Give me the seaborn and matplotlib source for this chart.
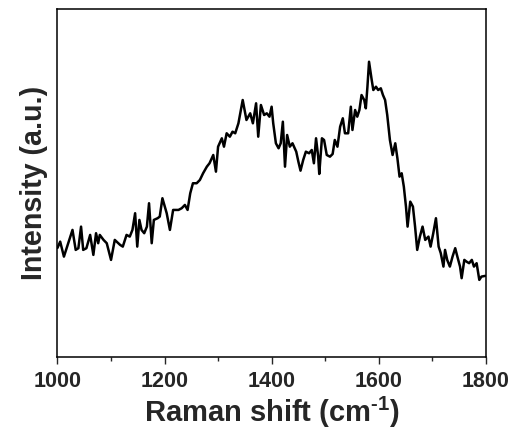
import matplotlib
matplotlib.use("Agg")
import matplotlib.pyplot as plt
import seaborn as sns
import pandas as pd
import numpy as np
from matplotlib.ticker import MultipleLocator

raman_shift = [
    1000, 1005, 1012, 1020, 1028, 1034, 1039, 1044, 1048, 1054, 1061, 1067, 1072, 1076, 1079,
    1086, 1092, 1100, 1107, 1117, 1122, 1129, 1135, 1140, 1145, 1149, 1153, 1157, 1162, 1167,
    1171, 1176, 1180, 1187, 1191, 1196, 1204, 1210, 1216, 1226, 1232, 1238, 1243, 1248, 1253,
    1260, 1266, 1272, 1279, 1284, 1291, 1296, 1300, 1307, 1311, 1316, 1322, 1327, 1332, 1338,
    1346, 1353, 1360, 1365, 1371, 1375, 1380,
    1386, 1391, 1396, 1400, 1403, 1408, 1413, 1417, 1421, 1425, 1429, 1434, 1439, 1446, 1450,
    1454, 1459, 1464, 1470, 1475, 1479, 1483, 1487, 1489, 1494, 1498, 1503, 1509, 1514, 1518,
    1523, 1528, 1533, 1537, 1543, 1548, 1551, 1556, 1560, 1564, 1568, 1573, 1576, 1579, 1582,
    1587, 1590, 1595, 1599, 1604, 1608, 1612, 1616, 1621, 1626, 1631, 1635, 1639, 1643, 1647,
    1651, 1654, 1659, 1664, 1668, 1672, 1677, 1682, 1687, 1693, 1697, 1702, 1707, 1712, 1716,
    1721, 1724, 1728, 1733, 1738, 1743, 1747, 1752, 1755, 1760, 1764, 1769, 1774, 1778, 1783,
    1788, 1792, 1799,
]
pixel_y = [
    248, 241.7, 256.7, 243.3, 230, 250, 248.3, 226.7, 250, 248.3, 235, 255, 233.3, 243.3, 235,
    240, 243.3, 260, 240, 245, 246.7, 235, 236.7, 230, 213.3, 246.7, 220, 230, 233.3, 226.7,
    203.3, 243.3, 220, 218.3, 216.7, 198.3, 213.3, 230, 210, 210, 208.3, 205, 210, 193.3, 183.3,
    183.3, 180, 173.3, 166.7, 163.3, 155, 171.7, 146.7, 138.3, 146.7, 133.3, 136.7, 131.7, 133.3, 123.3,
    100, 120, 113.3, 123.3, 103.3, 136.7, 105,
    115, 113.3, 116.7, 106.7, 123.3, 143.3, 148.3, 143.3, 121.7, 166.7, 135, 146.7, 143.3, 151.7, 161.7,
    170.7, 160, 151.7, 153.3, 150, 163.3, 138.3, 156.7, 174, 138.3, 140, 155, 156.7, 154, 140,
    146.7, 126.7, 118.3, 133.3, 133.3, 106.7, 130, 110, 116.7, 110, 95, 100, 108.3, 86.7, 61.7,
    80, 90, 86.7, 90, 88.3, 95, 100, 115, 140, 155, 143.3, 158.3, 176.7, 173.3, 186.7,
    206.7, 226.7, 201.7, 206.7, 226.7, 250, 236.7, 226.7, 240, 236.7, 246.7, 233.3, 218.3, 246.7, 253.3,
    266.7, 250, 260, 266.7, 256.7, 248.3, 256.7, 266.7, 278.3, 260, 261.7, 263.3, 260, 266.7, 263.3,
    280, 276.7, 276,
]
intensity = [357 - v for v in pixel_y]

df = pd.DataFrame({"Raman shift": raman_shift, "Intensity": intensity})

sns.set_theme(style="ticks")
plt.rcParams["font.family"] = ["Liberation Sans", "DejaVu Sans"]
plt.rcParams["mathtext.fontset"] = "custom"
plt.rcParams["mathtext.rm"] = "Liberation Sans:bold"
plt.rcParams["mathtext.bf"] = "Liberation Sans:bold"
plt.rcParams["mathtext.default"] = "rm"

fig = plt.figure(figsize=(5.18, 4.32), dpi=100)
ax = fig.add_axes([0.111, 0.174, 0.8267, 0.805])
sns.lineplot(data=df, x="Raman shift", y="Intensity", ax=ax, color="black", linewidth=1.8)

ax.set_xlim(1000, 1800)
ax.set_ylim(0, 348)
ax.xaxis.set_major_locator(MultipleLocator(200))
ax.xaxis.set_minor_locator(MultipleLocator(100))
ax.set_yticks([])
ax.tick_params(axis="x", which="major", direction="out", length=5, width=1.0,
               labelsize=15.5, pad=5)
ax.tick_params(axis="x", which="minor", direction="out", length=3, width=1.0)
for lbl in ax.get_xticklabels():
    lbl.set_fontweight("bold")
for s in ax.spines.values():
    s.set_visible(True)
    s.set_linewidth(1.1)
    s.set_color("black")

ax.set_xlabel("Raman shift (cm$^{\\text{-}1}$)", fontsize=21, fontweight="bold", labelpad=2)
ax.set_ylabel("Intensity (a.u.)", fontsize=20.6, fontweight="bold", labelpad=7)

fig.savefig("out.png", dpi=100)
